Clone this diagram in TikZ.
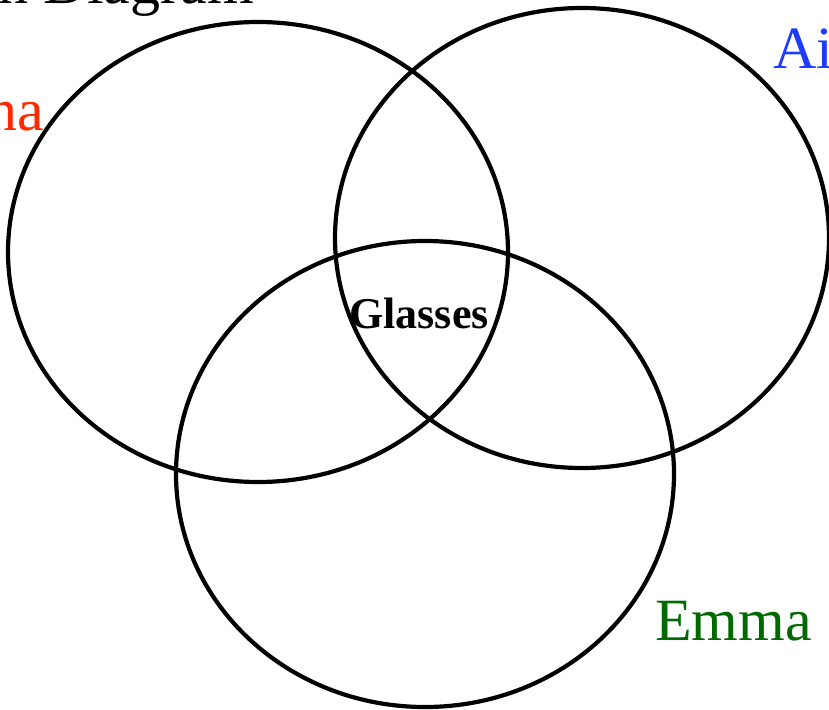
\documentclass[tikz,border=0pt]{standalone}
\usepackage{fontspec}
\setmainfont{Liberation Serif}
\usetikzlibrary{shapes.geometric}
\definecolor{kred}{HTML}{FF2A00}
\definecolor{kblue}{HTML}{1E3CFF}
\definecolor{kgreen}{HTML}{006A00}
\tikzset{
  vset/.style={draw, ellipse, line width=4.2pt, inner sep=0pt},
  vname/.style={inner sep=0pt, font=\fontsize{60}{66}\selectfont},
  vcommon/.style={inner sep=0pt, font=\fontsize{44}{48}\selectfont\bfseries},
}

\begin{document}
\begin{tikzpicture}[x=1pt, y=-1pt]
    \useasboundingbox (0,0) rectangle (829,709);
    \clip (0,0) rectangle (829,709);
    \node[vset, minimum width=500pt, minimum height=460pt] (left) at (258,252) {};
    \node[vset, minimum width=494pt, minimum height=460pt] (right) at (582,238) {};
    \node[vset, minimum width=498pt, minimum height=466pt] (bottom) at (425,474) {};
    \node[vname, anchor=base east] (title) at (254,4) {n Diagram};
    \node[vname, text=kred, anchor=base east] (lname) at (44,130) {na};
    \node[vname, text=kblue, anchor=base west] (rname) at (773,68) {Ai};
    \node[vname, text=kgreen, anchor=base west] (bname) at (655,640) {Emma};
    \node[vcommon] (common) at (419,313) {Glasses};
  \end{tikzpicture}
\end{document}
